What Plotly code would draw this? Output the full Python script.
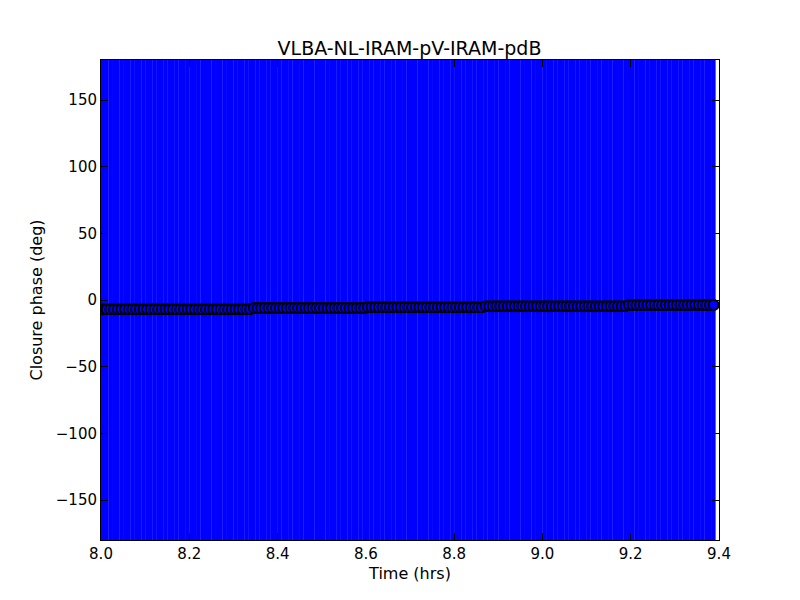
import numpy as np
import plotly.graph_objects as go

scan_start = 8.0045
scan_end = 9.3935
integration_hr = 30.0 / 3600.0
segment_edges = [8.0045, 8.345, 8.599, 8.864, 9.193, 9.3935]
segment_phase = [-7.0, -6.0, -5.4, -4.6, -3.7]
phase_error = 400.0

times = np.arange(scan_start, scan_end + 1e-6, integration_hr)
phases = []
for t in times:
    for i in range(len(segment_phase)):
        if t <= segment_edges[i + 1] + 1e-9 or i == len(segment_phase) - 1:
            phases.append(segment_phase[i])
            break
errors = [phase_error] * len(times)

x_ticks = [8.0, 8.2, 8.4, 8.6, 8.8, 9.0, 9.2, 9.4]
y_ticks = [-150, -100, -50, 0, 50, 100, 150]

fig = go.Figure()
fig.add_trace(go.Scatter(
    x=times, y=phases, mode="markers",
    marker=dict(color="#0000ff", size=10, line=dict(color="black", width=2)),
    error_y=dict(type="data", array=errors, visible=True, color="#0000ff",
                 thickness=4, width=0),
    showlegend=False,
))

axis_common = dict(showgrid=False, zeroline=False, showline=True, linecolor="black",
                   linewidth=1, mirror="ticks", ticks="inside", ticklen=7,
                   tickcolor="black", tickfont=dict(size=15, color="black"))

fig.update_layout(
    width=800, height=600,
    paper_bgcolor="white", plot_bgcolor="white",
    font=dict(family="DejaVu Sans", color="black"),
    title=dict(text="VLBA-NL-IRAM-pV-IRAM-pdB", x=401.5 / 800, xanchor="center",
               y=1 - 40 / 600, yanchor="middle", font=dict(size=19)),
    margin=dict(l=93, r=89, t=52, b=68),
    xaxis=dict(range=[8.0, 9.4], tickvals=x_ticks,
               ticktext=[f"{v:.1f}" for v in x_ticks],
               title=dict(text="Time (hrs)", font=dict(size=16), standoff=5),
               **axis_common),
    yaxis=dict(range=[-180, 180], tickvals=y_ticks,
               ticktext=[str(v).replace("-", "\u2212") for v in y_ticks],
               title=dict(text="Closure phase (deg)", font=dict(size=16), standoff=9),
               **axis_common),
)

fig.write_html("out.html")
